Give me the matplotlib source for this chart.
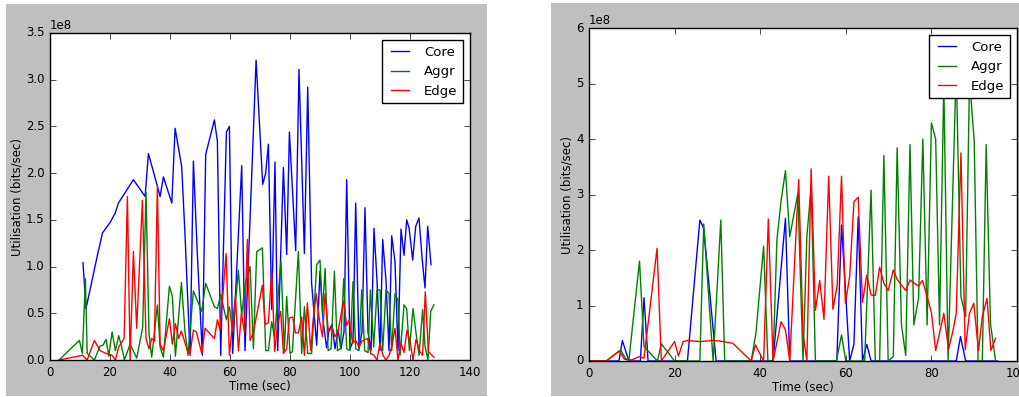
import matplotlib
matplotlib.use("Agg")
import matplotlib.pyplot as plt
from matplotlib.patches import Rectangle

# left run: (time in sec, utilisation in 1e8 bits/sec)
left_core = [(11, 1.04), (12, 0.55), (14, 0.85), (16, 1.15), (17.5, 1.36), (20, 1.47), (21.7, 1.57),
             (22.8, 1.68), (27.8, 1.93), (31.7, 1.75), (32.8, 2.21), (35.8, 1.86), (36.7, 1.75),
             (37.8, 1.96), (40.6, 1.68), (41.7, 2.48), (43.9, 2.07), (45, 1.34), (46.7, 0.05),
             (47.8, 2.13), (49.1, 1.14), (50.8, 0.05), (51.9, 2.2), (54.8, 2.57), (55.8, 2.34),
             (56.9, 0.05), (58.8, 2.44), (59.8, 2.5), (60.9, 0.07), (63.9, 2.08), (65, 0.1),
             (68.7, 3.21), (70.9, 1.88), (71.9, 2.0), (72.8, 2.31), (73.9, 0.54), (75, 2.12),
             (75.9, 0.1), (77.8, 2.06), (78.9, 1.13), (79.8, 2.44), (81.9, 1.17), (83, 3.11),
             (84.8, 1.14), (85.9, 2.92), (87.2, 0.82), (88.9, 0.16), (90, 0.95), (91.1, 0.4),
             (92.2, 0.13), (93, 0.32), (94, 0.38), (95, 0.12), (96, 0.32), (97, 0.12), (98, 0.3),
             (98.9, 1.93), (100, 0.12), (101, 0.2), (101.9, 1.68), (103, 0.12), (104, 0.3),
             (105, 1.63), (106, 0.3), (107, 0.1), (108, 1.41), (109, 0.85), (110, 0.1),
             (110.9, 1.29), (112, 0.85), (113, 0.1), (113.9, 1.33), (115, 1.05), (116, 0.1),
             (117, 1.4), (118, 1.12), (118.9, 1.5), (119.7, 1.41), (120.9, 1.07), (121.9, 1.43),
             (123, 1.52), (124, 1.1), (125, 0.77), (125.9, 1.43), (127, 1.02)]
left_aggr = [(3, 0.0), (9.8, 0.21), (10.8, 0.07), (11.8, 0.87), (12.4, 0.07), (14.8, 0.0),
             (16.7, 0.15), (17.7, 0.16), (18.7, 0.22), (19.6, 0.04), (20.7, 0.3), (21.8, 0.1),
             (22.9, 0.26), (23.9, 0.14), (24.8, 0.0), (26.7, 0.17), (28.9, 0.02), (30.9, 0.35),
             (32, 1.8), (33, 0.28), (33.9, 0.03), (35.8, 0.59), (36.7, 0.14), (37.8, 0.03),
             (39.8, 0.79), (40.8, 0.68), (41.8, 0.04), (43.8, 0.83), (45, 0.3), (46, 0.05),
             (47.8, 0.74), (50.6, 0.52), (51.9, 0.82), (54.8, 0.57), (55.8, 0.55), (56.9, 0.7),
             (58.8, 0.43), (59.8, 0.57), (60.9, 0.3), (62.8, 0.96), (63.9, 0.48), (65, 0.8),
             (66.7, 1.0), (67.8, 0.12), (68.9, 1.16), (70.8, 1.2), (71.9, 0.1), (72.8, 0.1),
             (73.9, 0.41), (74.8, 0.25), (77, 1.05), (78.1, 0.1), (78.9, 0.68), (80, 0.07),
             (80.8, 0.09), (82.8, 1.16), (83.9, 0.07), (84.8, 0.57), (85.9, 0.07), (87.2, 0.07),
             (88.9, 1.02), (90, 1.07), (90.8, 0.5), (91.7, 0.98), (92.7, 0.1), (93.7, 0.12),
             (94.8, 0.95), (95.8, 0.1), (96.8, 0.12), (97.9, 0.87), (98.9, 0.12), (100, 0.1),
             (101, 0.84), (101.9, 0.12), (103, 0.1), (103.9, 0.75), (104.9, 0.1), (106, 0.08),
             (106.8, 0.75), (107.9, 0.14), (109, 0.75), (110, 0.75), (110.9, 0.1), (112, 0.75),
             (113, 0.71), (113.9, 0.1), (115, 0.71), (116, 0.64), (116.7, 0.05), (118, 0.59),
             (118.9, 0.55), (119.8, 0.1), (121, 0.55), (122, 0.29), (123, 0.05), (124.2, 0.54),
             (125, 0.15), (126, 0.0), (126.9, 0.52), (128, 0.59)]
left_edge = [(3, 0.0), (10.8, 0.05), (12.4, 0.0), (14.8, 0.21), (16.7, 0.1), (18.7, 0.07),
             (20.7, 0.05), (21.8, 0.0), (22.9, 0.14), (24.7, 0.23), (25.8, 1.75), (26.7, 0.0),
             (27.8, 1.16), (28.9, 0.34), (30.8, 1.71), (32, 0.23), (33, 0.12), (33.9, 0.23),
             (34.8, 0.2), (35.8, 1.86), (36.7, 0.17), (37.8, 0.1), (39.8, 0.44), (40.8, 0.17),
             (41.8, 0.39), (42.9, 0.23), (43.8, 0.31), (45.8, 0.1), (46.7, 0.07), (47.8, 0.32),
             (48.8, 0.3), (50.6, 0.07), (51.7, 0.34), (54.8, 0.23), (55.8, 0.43), (56.7, 0.32),
             (58.7, 1.14), (59.8, 0.05), (60.8, 0.38), (61.8, 0.68), (62.8, 0.1), (63.8, 0.5),
             (64.8, 0.3), (65.8, 1.29), (66.7, 0.21), (67.8, 0.29), (68.7, 0.45), (70.8, 0.8),
             (71.7, 0.38), (72.8, 0.4), (73.9, 0.95), (74.9, 0.09), (75.9, 0.39), (76.9, 0.52),
             (77.8, 0.07), (78.9, 0.12), (79.8, 0.45), (80.9, 0.46), (81.8, 0.29), (82.8, 0.29),
             (83.9, 0.46), (84.8, 0.05), (85.8, 0.61), (86.9, 0.1), (87.8, 0.45), (88.7, 0.71),
             (89.8, 0.43), (90.8, 0.25), (91.7, 0.71), (92.8, 0.3), (94, 0.35), (95, 0.25),
             (96, 0.3), (97.8, 0.63), (98.9, 0.37), (99.8, 0.43), (100.9, 0.18), (101.9, 0.21),
             (103, 0.14), (104, 0.2), (105, 0.22), (105.9, 0.23), (106.9, 0.07), (108, 0.05),
             (109, 0.0), (110, 0.18), (111, 0.05), (112, 0.0), (113, 0.05), (114, 0.15),
             (115, 0.34), (116, 0.0), (117, 0.18), (118, 0.08), (119, 0.32), (120, 0.2),
             (121, 0.0), (122, 0.22), (123.3, 0.09), (124.2, 0.05), (125.1, 0.73), (126.1, 0.09),
             (128, 0.03)]

# right run
right_core = [(0, 0), (7, 0), (7.8, 0.37), (9.1, 0.05), (9.5, 0), (12, 0), (12.85, 1.14), (13.8, 0),
              (23, 0), (25.9, 2.54), (26.8, 2.39), (29.7, 0), (43, 0), (45.9, 2.57), (46.9, 0),
              (57.9, 0), (59, 2.45), (60.1, 1.04), (60.9, 0), (61.9, 0.3), (62.9, 2.6), (63.9, 0),
              (64.9, 0.3), (65.9, 0), (85.8, 0), (86.8, 0.44), (88, 0), (95.5, 0)]
right_aggr = [(0, 0), (4.05, 0), (7.4, 0.2), (8.5, 0.05), (9.3, 0), (11.8, 1.8), (12.85, 0.26),
              (16, 0), (16.9, 0.31), (20, 0), (25.9, 0), (26.8, 2.47), (29, 0), (30.8, 2.54),
              (31.7, 0), (37.9, 0), (39, 0.5), (40.8, 2.07), (41.8, 0), (43, 0), (43.9, 2.18),
              (44.9, 2.9), (45.9, 3.43), (46.9, 2.24), (48.8, 3.02), (50, 0), (50.9, 2.24),
              (51.9, 3.14), (52.9, 0), (57.8, 0), (59, 0.47), (60, 0), (64.4, 0), (65.9, 3.08),
              (66.9, 0), (67.9, 0), (68.9, 3.7), (69.9, 0), (71.1, 0.08), (72, 3.84), (73, 0.65),
              (74, 0.1), (75, 3.9), (75.9, 0.65), (77, 1.13), (78, 4.0), (79, 0.65), (80, 4.29),
              (81, 4.0), (81.9, 0.65), (82.9, 5.0), (83.9, 0), (85.8, 5.3), (86.9, 1.16),
              (88, 0.8), (88.9, 5.1), (90, 3.96), (90.9, 0), (91.9, 0), (92.8, 3.9), (93.8, 0.68),
              (95, 0)]
right_edge = [(0, 0), (4.05, 0), (7.1, 0.18), (8.3, 0.03), (10, 0.02), (11.8, 0.08), (12.85, 0.05),
              (15.9, 2.03), (16.9, 0), (20, 0.35), (20.9, 0.09), (22, 0.35), (23.1, 0.37),
              (25.9, 0.35), (29, 0.37), (30.5, 0.36), (33.6, 0.32), (37.9, 0), (38.9, 0.29),
              (40.8, 0), (41.9, 2.56), (43, 0), (44.9, 0.71), (45.9, 0.56), (46.9, 0), (49, 3.27),
              (50, 0.5), (50.9, 0), (51.9, 3.46), (52.9, 0.91), (53.9, 1.45), (54.9, 0.75),
              (56, 3.33), (57, 0.93), (58, 1.37), (59, 3.33), (59.9, 1.04), (60.9, 1.52),
              (61.9, 2.87), (62.9, 2.95), (63.9, 1.06), (64.9, 1.55), (65.9, 1.19), (66.9, 1.18),
              (67.9, 1.69), (68.9, 1.4), (69.9, 1.27), (71.1, 1.64), (72, 1.47), (73, 1.37),
              (74, 1.27), (75, 1.46), (76, 1.4), (77, 1.35), (77.9, 1.45), (78.8, 1.22), (80, 0.87),
              (81, 0.19), (81.9, 0.5), (82.9, 0.86), (84, 0.21), (85, 0.53), (85.8, 0.86),
              (86.9, 3.75), (87.9, 0.2), (88.9, 0.86), (89.9, 1.04), (91, 0.19), (91.9, 0.8),
              (93, 1.13), (93.9, 0.19), (95, 0.41)]

labels = ["Core", "Aggr", "Edge"]
colors = ["b", "g", "r"]

plt.style.use("classic")
plt.rcParams["xtick.labelsize"] = 8.5
plt.rcParams["ytick.labelsize"] = 8.5
plt.rcParams["axes.labelsize"] = 8.5
plt.rcParams["legend.fontsize"] = 9.5

W, H = 1019, 397
fig = plt.figure(figsize=(W / 100, H / 100), dpi=100, facecolor="white")

# the two grey figure backgrounds
for x0, x1, y0, y1 in [(6, 487, 4, 396), (551, 1019, 3, 396)]:
    fig.add_artist(Rectangle((x0 / W, 1 - y1 / H), (x1 - x0) / W, (y1 - y0) / H,
                             transform=fig.transFigure, facecolor="0.75",
                             edgecolor="none", zorder=-10))


def draw(ax, series, xmax, ymax):
    for data, lab, c in zip(series, labels, colors):
        t = [p[0] for p in data]
        v = [p[1] * 1e8 for p in data]
        ax.plot(t, v, color=c, lw=1.0, label=lab)
    ax.set_xlim(0, xmax)
    ax.set_ylim(0, ymax)
    ax.set_xlabel("Time (sec)", labelpad=1)
    ax.set_ylabel("Utilisation (bits/sec)", labelpad=1.5)
    ax.legend(loc="upper right", borderaxespad=0.55)


ax1 = fig.add_axes([50 / W, 1 - 360 / H, 420 / W, 327 / H])
draw(ax1, [left_core, left_aggr, left_edge], 140, 3.5e8)

ax2 = fig.add_axes([589 / W, 1 - 361 / H, 428 / W, 333 / H])
draw(ax2, [right_core, right_aggr, right_edge], 100, 6e8)

fig.savefig("out.png", dpi=100, facecolor=fig.get_facecolor())
